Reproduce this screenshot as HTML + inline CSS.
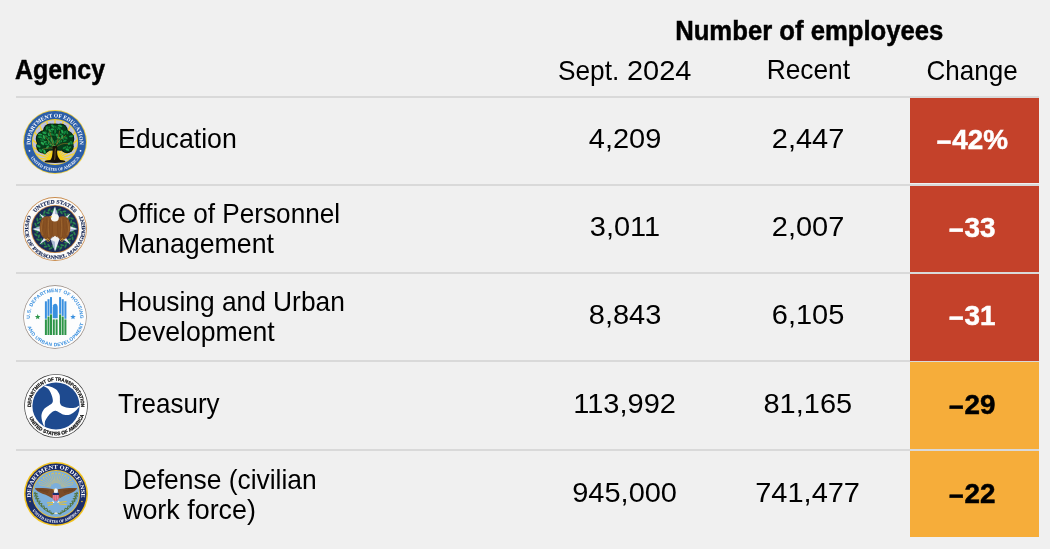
<!DOCTYPE html>
<html lang="en">
<head>
<meta charset="utf-8">
<title>Number of employees by agency</title>
<style>
  html, body { margin: 0; padding: 0; }
  body {
    width: 1050px; height: 549px; overflow: hidden; position: relative;
    background: #f0f0f0;
    font-family: "Liberation Sans", Arial, sans-serif;
    color: #000;
  }
  .t { position: absolute; white-space: nowrap; font-size: 28px; line-height: 30px; will-change: transform; }
  .b { font-weight: 700; -webkit-text-stroke: 0.5px currentColor; }
  .c { text-align: center; }
  .sx { display: inline-block; transform-origin: 0 50%; }
  .sc { display: inline-block; transform-origin: 50% 50%; }
  .line { position: absolute; left: 16px; width: 1023px; height: 2px; background: #d9d9d9; }
  .box { position: absolute; left: 910px; width: 129px; }
  .red { background: #c4412a; }
  .org { background: #f6ad3a; }
  .cw { color: #ffffff; }
  .ck { color: #000; }
  .cf { font-size: 27px; }
  .mn { display: inline-block; transform: translate(-0.6px, 2px) scaleX(0.93); transform-origin: 100% 50%; }
  .seal { position: absolute; width: 64px; height: 64px; will-change: transform; }
</style>
</head>
<body>
<div class="t c b" style="left:608.5px;width:400px;top:16px;"><span class="sc" style="transform:scaleX(0.917)">Number of employees</span></div>
<div class="t b" style="left:15px;top:54.5px;"><span class="sx" style="transform:scaleX(0.89)">Agency</span></div>
<div class="t" style="left:557.6px;top:55.5px;"><span class="sx" style="transform:scaleX(0.937)">Sept.</span> <span class="sx" style="margin-left:-4.47px;transform:scaleX(1.034)">2024</span></div>
<div class="t c" style="left:688.4px;width:240px;top:55.0px;"><span class="sc" style="transform:scaleX(0.94)">Recent</span></div>
<div class="t c" style="left:852.3px;width:240px;top:55.5px;"><span class="sc" style="transform:scaleX(0.93)">Change</span></div>
<div class="line" style="top:96px"></div>
<div class="line" style="top:184px"></div>
<div class="line" style="top:272px"></div>
<div class="line" style="top:360px"></div>
<div class="line" style="top:449px"></div>
<div class="box red" style="top:98px;height:85px"></div>
<div class="box red" style="top:186px;height:86px"></div>
<div class="box red" style="top:274px;height:87px"></div>
<div class="box org" style="top:362px;height:87px"></div>
<div class="box org" style="top:451px;height:86px"></div>
<div class="t" style="left:118px;top:124px;"><span class="sx" style="transform:scaleX(0.954)">Education</span></div>
<div class="t c" style="left:504.5px;width:240px;top:124px;"><span class="sc" style="transform:scaleX(1.035)">4,209</span></div>
<div class="t c" style="left:687.5px;width:240px;top:124px;"><span class="sc" style="transform:scaleX(1.035)">2,447</span></div>
<div class="t c b cw cf" style="left:908.3px;width:128px;top:125px;"><span class="sc" style="transform:scaleX(1.03)"><span class="mn">−</span>42%</span></div>
<div class="t" style="left:118px;top:199px;"><span class="sx" style="transform:scaleX(0.935)">Office of Personnel</span></div>
<div class="t" style="left:118px;top:229px;"><span class="sx" style="transform:scaleX(0.954)">Management</span></div>
<div class="t c" style="left:504.5px;width:240px;top:212px;"><span class="sc" style="transform:scaleX(1.035)">3,011</span></div>
<div class="t c" style="left:687.5px;width:240px;top:212px;"><span class="sc" style="transform:scaleX(1.035)">2,007</span></div>
<div class="t c b cw cf" style="left:908.3px;width:128px;top:213px;"><span class="sc" style="transform:scaleX(1.03)"><span class="mn">−</span>33</span></div>
<div class="t" style="left:118px;top:287px;"><span class="sx" style="transform:scaleX(0.94)">Housing and Urban</span></div>
<div class="t" style="left:118px;top:317px;"><span class="sx" style="transform:scaleX(0.95)">Development</span></div>
<div class="t c" style="left:504.5px;width:240px;top:300px;"><span class="sc" style="transform:scaleX(1.035)">8,843</span></div>
<div class="t c" style="left:687.5px;width:240px;top:300px;"><span class="sc" style="transform:scaleX(1.035)">6,105</span></div>
<div class="t c b cw cf" style="left:908.3px;width:128px;top:301px;"><span class="sc" style="transform:scaleX(1.03)"><span class="mn">−</span>31</span></div>
<div class="t" style="left:118px;top:389px;"><span class="sx" style="transform:scaleX(0.928)">Treasury</span></div>
<div class="t c" style="left:504.5px;width:240px;top:389px;"><span class="sc" style="transform:scaleX(1.035)">113,992</span></div>
<div class="t c" style="left:687.5px;width:240px;top:389px;"><span class="sc" style="transform:scaleX(1.035)">81,165</span></div>
<div class="t c b ck cf" style="left:908.3px;width:128px;top:390px;"><span class="sc" style="transform:scaleX(1.03)"><span class="mn">−</span>29</span></div>
<div class="t" style="left:123px;top:465px;"><span class="sx" style="transform:scaleX(0.943)">Defense (civilian</span></div>
<div class="t" style="left:123px;top:495px;"><span class="sx" style="transform:scaleX(0.96)">work force)</span></div>
<div class="t c" style="left:504.5px;width:240px;top:478px;"><span class="sc" style="transform:scaleX(1.035)">945,000</span></div>
<div class="t c" style="left:687.5px;width:240px;top:478px;"><span class="sc" style="transform:scaleX(1.035)">741,477</span></div>
<div class="t c b ck cf" style="left:908.3px;width:128px;top:479px;"><span class="sc" style="transform:scaleX(1.03)"><span class="mn">−</span>22</span></div>
<svg class="seal" style="left:23.4px;top:109.7px" width="64" height="64" viewBox="-32 -32 64 64"><circle r="31.9" fill="#eccd45"/><circle r="31" fill="#2b5ea9"/><circle r="23.1" fill="#efcd34"/><circle r="22.1" fill="#bfc3df"/><clipPath id="eduClip"><circle r="22.1"/></clipPath><g clip-path="url(#eduClip)"><g stroke="#f3d230" stroke-width="1.5"><line x1="0" y1="18" x2="-39.78" y2="13.82"/><line x1="0" y1="18" x2="-38.04" y2="5.64"/><line x1="0" y1="18" x2="-34.64" y2="-2"/><line x1="0" y1="18" x2="-29.73" y2="-8.77"/><line x1="0" y1="18" x2="-23.51" y2="-14.36"/><line x1="0" y1="18" x2="-16.27" y2="-18.54"/><line x1="0" y1="18" x2="-8.32" y2="-21.13"/><line x1="0" y1="18" x2="0" y2="-22"/><line x1="0" y1="18" x2="8.32" y2="-21.13"/><line x1="0" y1="18" x2="16.27" y2="-18.54"/><line x1="0" y1="18" x2="23.51" y2="-14.36"/><line x1="0" y1="18" x2="29.73" y2="-8.77"/><line x1="0" y1="18" x2="34.64" y2="-2"/><line x1="0" y1="18" x2="38.04" y2="5.64"/><line x1="0" y1="18" x2="39.78" y2="13.82"/></g></g><path d="M-10,19.5 L-3,9 L3,9 L10,19.5 Z" fill="#f6d31c"/><g transform="translate(0,-0.2) scale(0.93)"><g fill="#071d0e"><circle cx="0" cy="-5" r="14.7"/><circle cx="-11" cy="-3" r="9.7"/><circle cx="11" cy="-3" r="9.7"/><circle cx="-12.5" cy="5" r="7.7"/><circle cx="13" cy="5" r="7.2"/><circle cx="-5" cy="-12" r="7.7"/><circle cx="6" cy="-12" r="7.7"/><circle cx="-6" cy="4" r="5.7"/><circle cx="6" cy="4" r="5.7"/></g><g fill="#073f1c"><circle cx="0" cy="-5" r="13.7"/><circle cx="-11" cy="-3" r="8.7"/><circle cx="11" cy="-3" r="8.7"/><circle cx="-12.5" cy="5" r="6.7"/><circle cx="13" cy="5" r="6.2"/><circle cx="-5" cy="-12" r="6.7"/><circle cx="6" cy="-12" r="6.7"/><circle cx="-6" cy="4" r="4.7"/><circle cx="6" cy="4" r="4.7"/></g><ellipse cx="-7.05" cy="-14.32" rx="2.7" ry="1.5" fill="#149140" stroke="#051a0c" stroke-width="0.45" transform="rotate(117.17 -7.05 -14.32)"/><ellipse cx="-3.27" cy="-11.54" rx="2.7" ry="1.5" fill="#149140" stroke="#051a0c" stroke-width="0.45" transform="rotate(99.19 -3.27 -11.54)"/><ellipse cx="-11.07" cy="0.45" rx="2.7" ry="1.5" fill="#27ad54" stroke="#051a0c" stroke-width="0.45" transform="rotate(170.59 -11.07 0.45)"/><ellipse cx="2.27" cy="-14.87" rx="2.7" ry="1.5" fill="#149140" stroke="#051a0c" stroke-width="0.45" transform="rotate(75.45 2.27 -14.87)"/><ellipse cx="2.84" cy="-1.63" rx="2.7" ry="1.5" fill="#149140" stroke="#051a0c" stroke-width="0.45" transform="rotate(122.76 2.84 -1.63)"/><ellipse cx="3.26" cy="0.81" rx="2.7" ry="1.5" fill="#149140" stroke="#051a0c" stroke-width="0.45" transform="rotate(67.03 3.26 0.81)"/><ellipse cx="2.57" cy="0.19" rx="2.7" ry="1.5" fill="#27ad54" stroke="#051a0c" stroke-width="0.45" transform="rotate(89.35 2.57 0.19)"/><ellipse cx="11.09" cy="-4.57" rx="2.7" ry="1.5" fill="#11843a" stroke="#051a0c" stroke-width="0.45" transform="rotate(166.22 11.09 -4.57)"/><ellipse cx="-8.01" cy="5.63" rx="2.7" ry="1.5" fill="#1fa34c" stroke="#051a0c" stroke-width="0.45" transform="rotate(125.82 -8.01 5.63)"/><ellipse cx="-0.2" cy="-8.35" rx="2.7" ry="1.5" fill="#149140" stroke="#051a0c" stroke-width="0.45" transform="rotate(80.79 -0.2 -8.35)"/><ellipse cx="-15.28" cy="-6.04" rx="2.7" ry="1.5" fill="#1fa34c" stroke="#051a0c" stroke-width="0.45" transform="rotate(136.29 -15.28 -6.04)"/><ellipse cx="17.33" cy="-5.93" rx="2.7" ry="1.5" fill="#149140" stroke="#051a0c" stroke-width="0.45" transform="rotate(173.16 17.33 -5.93)"/><ellipse cx="10.58" cy="-1.24" rx="2.7" ry="1.5" fill="#11843a" stroke="#051a0c" stroke-width="0.45" transform="rotate(157.59 10.58 -1.24)"/><ellipse cx="-6.4" cy="-8.14" rx="2.7" ry="1.5" fill="#27ad54" stroke="#051a0c" stroke-width="0.45" transform="rotate(89.4 -6.4 -8.14)"/><ellipse cx="-9.2" cy="2.61" rx="2.7" ry="1.5" fill="#11843a" stroke="#051a0c" stroke-width="0.45" transform="rotate(11.7 -9.2 2.61)"/><ellipse cx="12.88" cy="-10.18" rx="2.7" ry="1.5" fill="#11843a" stroke="#051a0c" stroke-width="0.45" transform="rotate(69.44 12.88 -10.18)"/><ellipse cx="-17.64" cy="4.82" rx="2.7" ry="1.5" fill="#1fa34c" stroke="#051a0c" stroke-width="0.45" transform="rotate(23.28 -17.64 4.82)"/><ellipse cx="-0.14" cy="-13.84" rx="2.7" ry="1.5" fill="#11843a" stroke="#051a0c" stroke-width="0.45" transform="rotate(72.3 -0.14 -13.84)"/><ellipse cx="15.34" cy="6.4" rx="2.7" ry="1.5" fill="#11843a" stroke="#051a0c" stroke-width="0.45" transform="rotate(155.52 15.34 6.4)"/><ellipse cx="7.31" cy="-7.21" rx="2.7" ry="1.5" fill="#149140" stroke="#051a0c" stroke-width="0.45" transform="rotate(41.54 7.31 -7.21)"/><ellipse cx="-10.67" cy="-3.97" rx="2.7" ry="1.5" fill="#11843a" stroke="#051a0c" stroke-width="0.45" transform="rotate(106.04 -10.67 -3.97)"/><ellipse cx="-8.72" cy="-14.48" rx="2.7" ry="1.5" fill="#11843a" stroke="#051a0c" stroke-width="0.45" transform="rotate(96.23 -8.72 -14.48)"/><ellipse cx="0.62" cy="0.15" rx="2.7" ry="1.5" fill="#149140" stroke="#051a0c" stroke-width="0.45" transform="rotate(121.72 0.62 0.15)"/><ellipse cx="2.37" cy="-6.66" rx="2.7" ry="1.5" fill="#27ad54" stroke="#051a0c" stroke-width="0.45" transform="rotate(70.94 2.37 -6.66)"/><ellipse cx="5.37" cy="-17.07" rx="2.7" ry="1.5" fill="#1fa34c" stroke="#051a0c" stroke-width="0.45" transform="rotate(12.12 5.37 -17.07)"/><ellipse cx="-2.37" cy="-15.59" rx="2.7" ry="1.5" fill="#149140" stroke="#051a0c" stroke-width="0.45" transform="rotate(108.13 -2.37 -15.59)"/><ellipse cx="-15.94" cy="-7.73" rx="2.7" ry="1.5" fill="#1fa34c" stroke="#051a0c" stroke-width="0.45" transform="rotate(4.59 -15.94 -7.73)"/><ellipse cx="4.56" cy="-14.39" rx="2.7" ry="1.5" fill="#11843a" stroke="#051a0c" stroke-width="0.45" transform="rotate(45.41 4.56 -14.39)"/><ellipse cx="4.09" cy="-4.3" rx="2.7" ry="1.5" fill="#27ad54" stroke="#051a0c" stroke-width="0.45" transform="rotate(20.76 4.09 -4.3)"/><ellipse cx="-0.65" cy="-16.34" rx="2.7" ry="1.5" fill="#11843a" stroke="#051a0c" stroke-width="0.45" transform="rotate(18.39 -0.65 -16.34)"/><ellipse cx="9.61" cy="-4.16" rx="2.7" ry="1.5" fill="#149140" stroke="#051a0c" stroke-width="0.45" transform="rotate(124.57 9.61 -4.16)"/><ellipse cx="-11.79" cy="10.51" rx="2.7" ry="1.5" fill="#149140" stroke="#051a0c" stroke-width="0.45" transform="rotate(65.12 -11.79 10.51)"/><ellipse cx="10.33" cy="-9.76" rx="2.7" ry="1.5" fill="#149140" stroke="#051a0c" stroke-width="0.45" transform="rotate(115.73 10.33 -9.76)"/><ellipse cx="7.85" cy="-10.91" rx="2.7" ry="1.5" fill="#1fa34c" stroke="#051a0c" stroke-width="0.45" transform="rotate(66.01 7.85 -10.91)"/><ellipse cx="-5.77" cy="-12.09" rx="2.7" ry="1.5" fill="#11843a" stroke="#051a0c" stroke-width="0.45" transform="rotate(97.48 -5.77 -12.09)"/><ellipse cx="5.46" cy="0.01" rx="2.7" ry="1.5" fill="#1fa34c" stroke="#051a0c" stroke-width="0.45" transform="rotate(141.91 5.46 0.01)"/><ellipse cx="12.24" cy="6.37" rx="2.7" ry="1.5" fill="#1fa34c" stroke="#051a0c" stroke-width="0.45" transform="rotate(133.18 12.24 6.37)"/><ellipse cx="-12" cy="-3.72" rx="2.7" ry="1.5" fill="#149140" stroke="#051a0c" stroke-width="0.45" transform="rotate(131.58 -12 -3.72)"/><ellipse cx="11.6" cy="-4.36" rx="2.7" ry="1.5" fill="#11843a" stroke="#051a0c" stroke-width="0.45" transform="rotate(34.86 11.6 -4.36)"/><ellipse cx="-5.41" cy="-12.17" rx="2.7" ry="1.5" fill="#1fa34c" stroke="#051a0c" stroke-width="0.45" transform="rotate(40.83 -5.41 -12.17)"/><ellipse cx="-6.49" cy="-4.04" rx="2.7" ry="1.5" fill="#149140" stroke="#051a0c" stroke-width="0.45" transform="rotate(177.34 -6.49 -4.04)"/><ellipse cx="-0.82" cy="1.24" rx="2.7" ry="1.5" fill="#149140" stroke="#051a0c" stroke-width="0.45" transform="rotate(143.94 -0.82 1.24)"/><ellipse cx="-4.46" cy="3.06" rx="2.7" ry="1.5" fill="#1fa34c" stroke="#051a0c" stroke-width="0.45" transform="rotate(35.88 -4.46 3.06)"/><ellipse cx="-2.64" cy="0.71" rx="2.7" ry="1.5" fill="#27ad54" stroke="#051a0c" stroke-width="0.45" transform="rotate(15.61 -2.64 0.71)"/><ellipse cx="-1.47" cy="4.04" rx="2.7" ry="1.5" fill="#1fa34c" stroke="#051a0c" stroke-width="0.45" transform="rotate(15.29 -1.47 4.04)"/><ellipse cx="-13.95" cy="9.05" rx="2.7" ry="1.5" fill="#1fa34c" stroke="#051a0c" stroke-width="0.45" transform="rotate(145.17 -13.95 9.05)"/><ellipse cx="4.46" cy="-0.53" rx="2.7" ry="1.5" fill="#11843a" stroke="#051a0c" stroke-width="0.45" transform="rotate(85.38 4.46 -0.53)"/><ellipse cx="-13.76" cy="-2" rx="2.7" ry="1.5" fill="#149140" stroke="#051a0c" stroke-width="0.45" transform="rotate(3.85 -13.76 -2)"/><ellipse cx="-9.93" cy="-9.92" rx="2.7" ry="1.5" fill="#11843a" stroke="#051a0c" stroke-width="0.45" transform="rotate(43.3 -9.93 -9.92)"/><ellipse cx="-9.63" cy="-6.01" rx="2.7" ry="1.5" fill="#11843a" stroke="#051a0c" stroke-width="0.45" transform="rotate(23.59 -9.63 -6.01)"/><ellipse cx="15.91" cy="1.54" rx="2.7" ry="1.5" fill="#27ad54" stroke="#051a0c" stroke-width="0.45" transform="rotate(146.71 15.91 1.54)"/><ellipse cx="13.09" cy="8.22" rx="2.7" ry="1.5" fill="#1fa34c" stroke="#051a0c" stroke-width="0.45" transform="rotate(23.54 13.09 8.22)"/><ellipse cx="-2.4" cy="-13.32" rx="2.7" ry="1.5" fill="#1fa34c" stroke="#051a0c" stroke-width="0.45" transform="rotate(0.71 -2.4 -13.32)"/><ellipse cx="-13.11" cy="-4.32" rx="2.7" ry="1.5" fill="#149140" stroke="#051a0c" stroke-width="0.45" transform="rotate(130.53 -13.11 -4.32)"/><ellipse cx="-6.96" cy="-2.93" rx="2.7" ry="1.5" fill="#149140" stroke="#051a0c" stroke-width="0.45" transform="rotate(99.98 -6.96 -2.93)"/><ellipse cx="-16.09" cy="-4.98" rx="2.7" ry="1.5" fill="#149140" stroke="#051a0c" stroke-width="0.45" transform="rotate(5.02 -16.09 -4.98)"/><ellipse cx="-2.27" cy="-0.01" rx="2.7" ry="1.5" fill="#1fa34c" stroke="#051a0c" stroke-width="0.45" transform="rotate(91 -2.27 -0.01)"/><ellipse cx="7.71" cy="-4.98" rx="2.7" ry="1.5" fill="#27ad54" stroke="#051a0c" stroke-width="0.45" transform="rotate(95.99 7.71 -4.98)"/><ellipse cx="0.31" cy="-11.32" rx="2.7" ry="1.5" fill="#11843a" stroke="#051a0c" stroke-width="0.45" transform="rotate(94.18 0.31 -11.32)"/><ellipse cx="-11.9" cy="-5.13" rx="2.7" ry="1.5" fill="#27ad54" stroke="#051a0c" stroke-width="0.45" transform="rotate(74.99 -11.9 -5.13)"/><ellipse cx="-2.32" cy="-16.75" rx="2.7" ry="1.5" fill="#149140" stroke="#051a0c" stroke-width="0.45" transform="rotate(43.31 -2.32 -16.75)"/><ellipse cx="-11.49" cy="-9.61" rx="2.7" ry="1.5" fill="#1fa34c" stroke="#051a0c" stroke-width="0.45" transform="rotate(22.02 -11.49 -9.61)"/><ellipse cx="17.58" cy="0.95" rx="2.7" ry="1.5" fill="#11843a" stroke="#051a0c" stroke-width="0.45" transform="rotate(65.91 17.58 0.95)"/><ellipse cx="-11.22" cy="10.53" rx="2.7" ry="1.5" fill="#27ad54" stroke="#051a0c" stroke-width="0.45" transform="rotate(71.69 -11.22 10.53)"/><ellipse cx="-13.49" cy="1.7" rx="2.7" ry="1.5" fill="#27ad54" stroke="#051a0c" stroke-width="0.45" transform="rotate(40.27 -13.49 1.7)"/><ellipse cx="-3.15" cy="-7.94" rx="2.7" ry="1.5" fill="#11843a" stroke="#051a0c" stroke-width="0.45" transform="rotate(16.59 -3.15 -7.94)"/><ellipse cx="-6.74" cy="0.34" rx="2.7" ry="1.5" fill="#149140" stroke="#051a0c" stroke-width="0.45" transform="rotate(92.21 -6.74 0.34)"/><ellipse cx="-15.49" cy="9.47" rx="2.7" ry="1.5" fill="#149140" stroke="#051a0c" stroke-width="0.45" transform="rotate(41.14 -15.49 9.47)"/><ellipse cx="10.23" cy="6.41" rx="2.7" ry="1.5" fill="#11843a" stroke="#051a0c" stroke-width="0.45" transform="rotate(152.93 10.23 6.41)"/><ellipse cx="-3.76" cy="-2.37" rx="2.7" ry="1.5" fill="#27ad54" stroke="#051a0c" stroke-width="0.45" transform="rotate(92.66 -3.76 -2.37)"/><path d="M0,9 C-2,4 -6,0 -11,-6 M-1,5 C-3,0 -4,-6 -6,-12 M1,4 C3,-1 4,-6 5,-12 M1,6 C5,3 9,1 14,2 M-2,7 C-6,6 -10,7 -13,8 M2,2 C5,-3 9,-5 12,-7" stroke="#8f7022" stroke-width="0.7" fill="none"/></g><path d="M-6,19.5 C-3,17 -3,14 -2.5,11 C-2,8 -3,6 -2,4 L2,4 C3,7 1.5,10 2.5,13 C3,15 4,17 7,19.5 Z" fill="#1a1208"/><path d="M-0.5,18 C0.5,14 -0.5,10 0.5,6.5" stroke="#b08c2a" stroke-width="0.6" fill="none"/><ellipse cx="0" cy="19.4" rx="10.5" ry="1.7" fill="#14110a"/><path id="eduT" d="M-24.3,3.85 A24.6,24.6 0 1 1 24.3,3.85" fill="none"/><text font-family="Liberation Serif" font-weight="700" font-size="5.6" fill="#fff"><textPath href="#eduT" startOffset="50%" text-anchor="middle" textLength="82.46" lengthAdjust="spacingAndGlyphs">DEPARTMENT OF EDUCATION</textPath></text><path id="eduB" d="M-25.03,14.45 A28.9,28.9 0 0 0 25.03,14.45" fill="none"/><text font-family="Liberation Serif" font-weight="700" font-size="4.3" fill="#fff"><textPath href="#eduB" startOffset="50%" text-anchor="middle" textLength="57.5" lengthAdjust="spacingAndGlyphs">UNITED STATES OF AMERICA</textPath></text><circle cx="-25.53" cy="8.79" r="0.9" fill="#fff"/><circle cx="25.53" cy="8.79" r="0.9" fill="#fff"/></svg>
<svg class="seal" style="left:23.3px;top:196.6px" width="64" height="64" viewBox="-32 -32 64 64"><circle r="31.9" fill="#c98b4c"/><circle r="31.1" fill="#fbfbfa"/><circle r="24.1" fill="#c98b4c"/><circle r="23.2" fill="#1b2a56"/><circle r="18.8" fill="none" stroke="#1f5a3c" stroke-width="0.6"/><g fill="#2c8550"><ellipse cx="1.84" cy="-17.5" rx="2.0" ry="0.9" transform="rotate(41 1.84 -17.5)"/><ellipse cx="4.5" cy="-19.49" rx="2.0" ry="0.9" transform="rotate(-22 4.5 -19.49)"/><ellipse cx="6.31" cy="-16.43" rx="2.0" ry="0.9" transform="rotate(56 6.31 -16.43)"/><ellipse cx="9.39" cy="-17.66" rx="2.0" ry="0.9" transform="rotate(-7 9.39 -17.66)"/><ellipse cx="10.35" cy="-14.24" rx="2.0" ry="0.9" transform="rotate(71 10.35 -14.24)"/><ellipse cx="13.64" cy="-14.63" rx="2.0" ry="0.9" transform="rotate(8 13.64 -14.63)"/><ellipse cx="13.68" cy="-11.08" rx="2.0" ry="0.9" transform="rotate(86 13.68 -11.08)"/><ellipse cx="16.96" cy="-10.6" rx="2.0" ry="0.9" transform="rotate(23 16.96 -10.6)"/><ellipse cx="16.08" cy="-7.16" rx="2.0" ry="0.9" transform="rotate(101 16.08 -7.16)"/><ellipse cx="19.13" cy="-5.85" rx="2.0" ry="0.9" transform="rotate(38 19.13 -5.85)"/><ellipse cx="17.38" cy="-2.75" rx="2.0" ry="0.9" transform="rotate(116 17.38 -2.75)"/><ellipse cx="19.99" cy="-0.7" rx="2.0" ry="0.9" transform="rotate(53 19.99 -0.7)"/><ellipse cx="17.5" cy="1.84" rx="2.0" ry="0.9" transform="rotate(131 17.5 1.84)"/><ellipse cx="19.49" cy="4.5" rx="2.0" ry="0.9" transform="rotate(68 19.49 4.5)"/><ellipse cx="16.43" cy="6.31" rx="2.0" ry="0.9" transform="rotate(146 16.43 6.31)"/><ellipse cx="17.66" cy="9.39" rx="2.0" ry="0.9" transform="rotate(83 17.66 9.39)"/><ellipse cx="14.24" cy="10.35" rx="2.0" ry="0.9" transform="rotate(161 14.24 10.35)"/><ellipse cx="14.63" cy="13.64" rx="2.0" ry="0.9" transform="rotate(98 14.63 13.64)"/><ellipse cx="11.08" cy="13.68" rx="2.0" ry="0.9" transform="rotate(176 11.08 13.68)"/><ellipse cx="10.6" cy="16.96" rx="2.0" ry="0.9" transform="rotate(113 10.6 16.96)"/><ellipse cx="7.16" cy="16.08" rx="2.0" ry="0.9" transform="rotate(191 7.16 16.08)"/><ellipse cx="5.85" cy="19.13" rx="2.0" ry="0.9" transform="rotate(128 5.85 19.13)"/><ellipse cx="2.75" cy="17.38" rx="2.0" ry="0.9" transform="rotate(206 2.75 17.38)"/><ellipse cx="0.7" cy="19.99" rx="2.0" ry="0.9" transform="rotate(143 0.7 19.99)"/><ellipse cx="-1.84" cy="17.5" rx="2.0" ry="0.9" transform="rotate(221 -1.84 17.5)"/><ellipse cx="-4.5" cy="19.49" rx="2.0" ry="0.9" transform="rotate(158 -4.5 19.49)"/><ellipse cx="-6.31" cy="16.43" rx="2.0" ry="0.9" transform="rotate(236 -6.31 16.43)"/><ellipse cx="-9.39" cy="17.66" rx="2.0" ry="0.9" transform="rotate(173 -9.39 17.66)"/><ellipse cx="-10.35" cy="14.24" rx="2.0" ry="0.9" transform="rotate(251 -10.35 14.24)"/><ellipse cx="-13.64" cy="14.63" rx="2.0" ry="0.9" transform="rotate(188 -13.64 14.63)"/><ellipse cx="-13.68" cy="11.08" rx="2.0" ry="0.9" transform="rotate(266 -13.68 11.08)"/><ellipse cx="-16.96" cy="10.6" rx="2.0" ry="0.9" transform="rotate(203 -16.96 10.6)"/><ellipse cx="-16.08" cy="7.16" rx="2.0" ry="0.9" transform="rotate(281 -16.08 7.16)"/><ellipse cx="-19.13" cy="5.85" rx="2.0" ry="0.9" transform="rotate(218 -19.13 5.85)"/><ellipse cx="-17.38" cy="2.75" rx="2.0" ry="0.9" transform="rotate(296 -17.38 2.75)"/><ellipse cx="-19.99" cy="0.7" rx="2.0" ry="0.9" transform="rotate(233 -19.99 0.7)"/><ellipse cx="-17.5" cy="-1.84" rx="2.0" ry="0.9" transform="rotate(311 -17.5 -1.84)"/><ellipse cx="-19.49" cy="-4.5" rx="2.0" ry="0.9" transform="rotate(248 -19.49 -4.5)"/><ellipse cx="-16.43" cy="-6.31" rx="2.0" ry="0.9" transform="rotate(326 -16.43 -6.31)"/><ellipse cx="-17.66" cy="-9.39" rx="2.0" ry="0.9" transform="rotate(263 -17.66 -9.39)"/><ellipse cx="-14.24" cy="-10.35" rx="2.0" ry="0.9" transform="rotate(341 -14.24 -10.35)"/><ellipse cx="-14.63" cy="-13.64" rx="2.0" ry="0.9" transform="rotate(278 -14.63 -13.64)"/><ellipse cx="-11.08" cy="-13.68" rx="2.0" ry="0.9" transform="rotate(356 -11.08 -13.68)"/><ellipse cx="-10.6" cy="-16.96" rx="2.0" ry="0.9" transform="rotate(293 -10.6 -16.96)"/><ellipse cx="-7.16" cy="-16.08" rx="2.0" ry="0.9" transform="rotate(371 -7.16 -16.08)"/><ellipse cx="-5.85" cy="-19.13" rx="2.0" ry="0.9" transform="rotate(308 -5.85 -19.13)"/><ellipse cx="-2.75" cy="-17.38" rx="2.0" ry="0.9" transform="rotate(386 -2.75 -17.38)"/><ellipse cx="-0.7" cy="-19.99" rx="2.0" ry="0.9" transform="rotate(323 -0.7 -19.99)"/></g><g fill="#e4e9f4"><polygon points="15.56,-15.56 7.05,-9.71 9.71,-7.05"/><polygon points="15.56,15.56 9.71,7.05 7.05,9.71"/><polygon points="-15.56,15.56 -7.05,9.71 -9.71,7.05"/><polygon points="-15.56,-15.56 -9.71,-7.05 -7.05,-9.71"/></g><polygon points="0,-22.6 -6.01,-6.01 0,0" fill="#e6ebf5"/><polygon points="0,-22.6 6.01,-6.01 0,0" fill="#aebbd6"/><polygon points="22.6,-0 6.01,-6.01 0,0" fill="#e6ebf5"/><polygon points="22.6,-0 6.01,6.01 0,0" fill="#aebbd6"/><polygon points="0,22.6 6.01,6.01 0,0" fill="#e6ebf5"/><polygon points="0,22.6 -6.01,6.01 0,0" fill="#aebbd6"/><polygon points="-22.6,0 -6.01,6.01 0,0" fill="#e6ebf5"/><polygon points="-22.6,0 -6.01,-6.01 0,0" fill="#aebbd6"/><path d="M0,-8 C-3,-12.5 -9,-14.5 -13,-10.5 C-16,-6.5 -16.2,1.5 -13.5,6.5 C-11.5,9.5 -8.5,11 -5.5,11 L-2.5,7.5 L0,9 L2.5,7.5 L5.5,11 C8.5,11 11.5,9.5 13.5,6.5 C16.2,1.5 16,-6.5 13,-10.5 C9,-14.5 3,-12.5 0,-8 Z" fill="#8e5626"/><path d="M-13,-11.5 C-13.39,-5.5 -13,3 -11.05,9.5 M-11.5,-11.5 C-11.85,-5.5 -11.5,3 -9.78,9.5 M-10,-11.5 C-10.3,-5.5 -10,3 -8.5,9.5 M-8.5,-11.5 C-8.76,-5.5 -8.5,3 -7.22,9.5 M-7,-11.5 C-7.21,-5.5 -7,3 -5.95,9.5 M-5.5,-11.5 C-5.67,-5.5 -5.5,3 -4.67,9.5 M-4,-11.5 C-4.12,-5.5 -4,3 -3.4,9.5 M-2.5,-7 C-2.58,-1 -2.5,3 -2.12,9.5 M2.5,-7 C2.58,-1 2.5,3 2.12,9.5 M4,-11.5 C4.12,-5.5 4,3 3.4,9.5 M5.5,-11.5 C5.67,-5.5 5.5,3 4.67,9.5 M7,-11.5 C7.21,-5.5 7,3 5.95,9.5 M8.5,-11.5 C8.76,-5.5 8.5,3 7.22,9.5 M10,-11.5 C10.3,-5.5 10,3 8.5,9.5 M11.5,-11.5 C11.85,-5.5 11.5,3 9.78,9.5 M13,-11.5 C13.39,-5.5 13,3 11.05,9.5" stroke="#6b3c16" stroke-width="0.45" fill="none" opacity="0.8"/><path d="M-12,-9 C-14,-4 -14,2 -12,6 M12,-9 C14,-4 14,2 12,6 M-6,-11 C-7,-5 -7,2 -6,8 M6,-11 C7,-5 7,2 6,8" stroke="#b27a3a" stroke-width="0.5" fill="none"/><ellipse cx="-0.2" cy="-11.3" rx="4" ry="3.7" fill="#f6f6f3"/><path d="M-3.2,-13 L-6,-12.4 L-3.4,-11.2 Z" fill="#eab21c"/><path d="M-4.5,10.5 L0,6.8 L4.5,10.5 L0,12.8 Z" fill="#f2f2f2"/><path d="M-9.5,10 L-6.5,13 M-8,9.5 L-5,12 M9.5,10 L6.5,13 M8,9.5 L5,12" stroke="#e2ad2c" stroke-width="0.9"/><path id="opmT" d="M-19.53,-16.39 A25.5,25.5 0 0 1 19.53,-16.39" fill="none"/><text font-family="Liberation Serif" font-weight="700" font-size="5.4" fill="#1b2a56" stroke="#1b2a56" stroke-width="0.15"><textPath href="#opmT" startOffset="50%" text-anchor="middle" textLength="44.51" lengthAdjust="spacingAndGlyphs">UNITED STATES</textPath></text><path id="opmB" d="M-26.82,-13.67 A30.1,30.1 0 1 0 26.82,-13.67" fill="none"/><text font-family="Liberation Serif" font-weight="700" font-size="5.2" fill="#1b2a56" stroke="#1b2a56" stroke-width="0.15"><textPath href="#opmB" startOffset="50%" text-anchor="middle" textLength="122.93" lengthAdjust="spacingAndGlyphs">OFFICE OF PERSONNEL MANAGEMENT</textPath></text></svg>
<svg class="seal" style="left:23.3px;top:284.7px" width="64" height="64" viewBox="-32 -32 64 64"><circle r="31.7" fill="#8d7f76"/><circle r="31.1" fill="#fdfdfd"/><rect x="-10.1" y="-15.7" width="2" height="17.5" fill="#3a90df"/><rect x="-10.1" y="2.4" width="2" height="15.6" fill="#2e9548"/><rect x="-7.5" y="-17.8" width="2" height="16.7" fill="#3a90df"/><rect x="-7.5" y="-0.5" width="2" height="18.5" fill="#2e9548"/><rect x="-5" y="-19.9" width="2" height="16.7" fill="#3a90df"/><rect x="-5" y="-2.6" width="2" height="20.6" fill="#2e9548"/><rect x="4.1" y="-19.9" width="2" height="16.7" fill="#3a90df"/><rect x="4.1" y="-2.6" width="2" height="20.6" fill="#2e9548"/><rect x="6.7" y="-17.8" width="2" height="16.7" fill="#3a90df"/><rect x="6.7" y="-0.5" width="2" height="18.5" fill="#2e9548"/><rect x="9.4" y="-15.7" width="2" height="17.5" fill="#3a90df"/><rect x="9.4" y="2.4" width="2" height="15.6" fill="#2e9548"/><rect x="-2.2" y="2.4" width="2" height="15.6" fill="#2e9548"/><rect x="0.6" y="2.4" width="2" height="15.6" fill="#2e9548"/><path d="M-2.3,1.2 L-2.3,-9.5 C-2.3,-12 -1,-13.3 0.3,-13.3 C1.8,-13.3 2.7,-11.8 2.7,-9.5 L2.7,1.2 Z" fill="#3a90df"/><path d="M-1.2,-12.4 L-2.6,-11.2 L-1.2,-11 Z" fill="#3a90df"/><polygon points="-17.3,-2.9 -16.58,-0.99 -14.54,-0.9 -16.14,0.38 -15.6,2.35 -17.3,1.22 -19,2.35 -18.46,0.38 -20.06,-0.9 -18.02,-0.99" fill="#2e9548"/><polygon points="18,-2.9 18.72,-0.99 20.76,-0.9 19.16,0.38 19.7,2.35 18,1.22 16.3,2.35 16.84,0.38 15.24,-0.9 17.28,-0.99" fill="#3a90df"/><path id="hudT" d="M-24.97,1.31 A25,25 0 1 1 24.97,1.31" fill="none"/><text font-family="Liberation Sans" font-weight="700" font-size="4.9" fill="#3a90df"><textPath href="#hudT" startOffset="50%" text-anchor="middle" textLength="81.16" lengthAdjust="spacing">U.S. DEPARTMENT OF HOUSING</textPath></text><path id="hudB" d="M-27.44,9.99 A29.2,29.2 0 0 0 28.45,6.57" fill="none"/><text font-family="Liberation Sans" font-weight="700" font-size="4.9" fill="#3a90df"><textPath href="#hudB" startOffset="50%" text-anchor="middle" textLength="74.92" lengthAdjust="spacing">AND URBAN DEVELOPMENT</textPath></text></svg>
<svg class="seal" style="left:23.6px;top:374.3px" width="64" height="64" viewBox="-32 -32 64 64"><circle r="31.8" fill="#2a2a2a"/><circle r="31.2" fill="#fdfdfd"/><circle r="23.6" fill="#1e4a8f"/><clipPath id="dotClip"><circle r="23.6"/></clipPath><path d="M-12.4,-20.4 C-12.01,-20.79 -7.44,-19.98 -5.34,-19.33 C-3.25,-18.68 -1.32,-17.83 0.15,-16.52 C1.62,-15.21 2.86,-13.14 3.48,-11.49 C4.11,-9.85 3.81,-8.11 3.91,-6.66 C4.01,-5.21 3.71,-3.91 4.09,-2.81 C4.47,-1.7 4.92,-0.79 6.2,-0.04 C7.49,0.71 9.77,1.39 11.82,1.7 C13.87,2.01 16.51,2.22 18.52,1.85 C20.53,1.48 23.72,-1.07 23.87,-0.54 C24.02,-0.01 21.02,3.55 19.41,5.04 C17.81,6.53 16.1,7.77 14.23,8.39 C12.37,9.01 9.95,9.04 8.21,8.76 C6.48,8.48 5.12,7.35 3.81,6.71 C2.51,6.08 1.53,5.16 0.39,4.94 C-0.76,4.72 -1.77,4.65 -3.07,5.39 C-4.36,6.13 -6.08,7.76 -7.38,9.39 C-8.68,11.01 -10.18,13.19 -10.86,15.12 C-11.54,17.04 -10.93,21.08 -11.47,20.94 C-12,20.8 -13.58,16.43 -14.07,14.29 C-14.56,12.16 -14.78,10.06 -14.38,8.13 C-13.99,6.2 -12.8,4.1 -11.69,2.73 C-10.58,1.37 -8.92,0.75 -7.72,-0.06 C-6.52,-0.87 -5.24,-1.25 -4.48,-2.14 C-3.71,-3.02 -3.14,-3.86 -3.13,-5.35 C-3.13,-6.85 -3.68,-9.15 -4.44,-11.09 C-5.19,-13.02 -6.33,-15.41 -7.66,-16.96 C-8.99,-18.52 -12.79,-20.01 -12.4,-20.4 Z" fill="#fff" clip-path="url(#dotClip)"/><path id="dotT" d="M-25.08,0.88 A25.1,25.1 0 1 1 25.08,0.88" fill="none"/><text font-family="Liberation Sans" font-weight="700" font-size="4.9" fill="#111" stroke="#111" stroke-width="0.2"><textPath href="#dotT" startOffset="50%" text-anchor="middle" textLength="80.61" lengthAdjust="spacingAndGlyphs">DEPARTMENT OF TRANSPORTATION</textPath></text><path id="dotB" d="M-26.77,11.92 A29.3,29.3 0 0 0 27.87,9.05" fill="none"/><text font-family="Liberation Sans" font-weight="700" font-size="4.9" fill="#111" stroke="#111" stroke-width="0.2"><textPath href="#dotB" startOffset="50%" text-anchor="middle" textLength="70.57" lengthAdjust="spacingAndGlyphs">UNITED STATES OF AMERICA</textPath></text></svg>
<svg class="seal" style="left:23.5px;top:462.1px" width="64" height="64" viewBox="-32 -32 64 64"><circle r="32" fill="#f2c21c"/><circle r="30.5" fill="#1b2d6b"/><circle r="24" fill="#e6c03c"/><circle r="23.1" fill="#7cafdb"/><g stroke="#e2c35e" stroke-width="0.55"><line x1="-5.71" y1="-6.85" x2="-16.64" y2="-9.41"/><line x1="-5.39" y1="-7.63" x2="-15.73" y2="-11.67"/><line x1="-4.97" y1="-8.36" x2="-14.51" y2="-13.79"/><line x1="-4.46" y1="-9.01" x2="-13.01" y2="-15.71"/><line x1="-3.86" y1="-9.6" x2="-11.25" y2="-17.41"/><line x1="-3.18" y1="-10.09" x2="-9.27" y2="-18.84"/><line x1="-2.44" y1="-10.48" x2="-7.12" y2="-19.99"/><line x1="-1.65" y1="-10.77" x2="-4.82" y2="-20.82"/><line x1="-0.84" y1="-10.94" x2="-2.44" y2="-21.33"/><line x1="0" y1="-11" x2="0" y2="-21.5"/><line x1="0.84" y1="-10.94" x2="2.44" y2="-21.33"/><line x1="1.65" y1="-10.77" x2="4.82" y2="-20.82"/><line x1="2.44" y1="-10.48" x2="7.12" y2="-19.99"/><line x1="3.18" y1="-10.09" x2="9.27" y2="-18.84"/><line x1="3.86" y1="-9.6" x2="11.25" y2="-17.41"/><line x1="4.46" y1="-9.01" x2="13.01" y2="-15.71"/><line x1="4.97" y1="-8.36" x2="14.51" y2="-13.79"/><line x1="5.39" y1="-7.63" x2="15.73" y2="-11.67"/><line x1="5.71" y1="-6.85" x2="16.64" y2="-9.41"/></g><g fill="#ecc53a"><circle cx="-16.71" cy="-11.15" r="0.7"/><circle cx="-14.78" cy="-13.91" r="0.7"/><circle cx="-12.41" cy="-16.28" r="0.7"/><circle cx="-9.65" cy="-18.21" r="0.7"/><circle cx="-6.6" cy="-19.64" r="0.7"/><circle cx="-3.35" cy="-20.51" r="0.7"/><circle cx="0" cy="-20.8" r="0.7"/><circle cx="3.35" cy="-20.51" r="0.7"/><circle cx="6.6" cy="-19.64" r="0.7"/><circle cx="9.65" cy="-18.21" r="0.7"/><circle cx="12.41" cy="-16.28" r="0.7"/><circle cx="14.78" cy="-13.91" r="0.7"/><circle cx="16.71" cy="-11.15" r="0.7"/></g><path d="M-20.5,-1 C-20,8 -14,16 -4,19.5 M20.5,-1 C20,8 14,16 4,19.5" stroke="#4e6e3c" stroke-width="0.8" fill="none"/><g fill="#55763f"><ellipse cx="-21.3" cy="-1" rx="1.5" ry="0.7" transform="rotate(-60 -21.3 -1)"/><ellipse cx="-19.5" cy="-0.4" rx="1.5" ry="0.7" transform="rotate(20 -19.5 -0.4)"/><ellipse cx="21.3" cy="-1" rx="1.5" ry="0.7" transform="rotate(60 21.3 -1)"/><ellipse cx="19.5" cy="-0.4" rx="1.5" ry="0.7" transform="rotate(-20 19.5 -0.4)"/><ellipse cx="-20.82" cy="1.5" rx="1.5" ry="0.7" transform="rotate(-65 -20.82 1.5)"/><ellipse cx="-19.02" cy="2.1" rx="1.5" ry="0.7" transform="rotate(15 -19.02 2.1)"/><ellipse cx="20.82" cy="1.5" rx="1.5" ry="0.7" transform="rotate(65 20.82 1.5)"/><ellipse cx="19.02" cy="2.1" rx="1.5" ry="0.7" transform="rotate(-15 19.02 2.1)"/><ellipse cx="-19.9" cy="4" rx="1.5" ry="0.7" transform="rotate(-70 -19.9 4)"/><ellipse cx="-18.1" cy="4.6" rx="1.5" ry="0.7" transform="rotate(10 -18.1 4.6)"/><ellipse cx="19.9" cy="4" rx="1.5" ry="0.7" transform="rotate(70 19.9 4)"/><ellipse cx="18.1" cy="4.6" rx="1.5" ry="0.7" transform="rotate(-10 18.1 4.6)"/><ellipse cx="-18.53" cy="6.5" rx="1.5" ry="0.7" transform="rotate(-75 -18.53 6.5)"/><ellipse cx="-16.73" cy="7.1" rx="1.5" ry="0.7" transform="rotate(5 -16.73 7.1)"/><ellipse cx="18.53" cy="6.5" rx="1.5" ry="0.7" transform="rotate(75 18.53 6.5)"/><ellipse cx="16.73" cy="7.1" rx="1.5" ry="0.7" transform="rotate(-5 16.73 7.1)"/><ellipse cx="-16.7" cy="9" rx="1.5" ry="0.7" transform="rotate(-80 -16.7 9)"/><ellipse cx="-14.9" cy="9.6" rx="1.5" ry="0.7" transform="rotate(-0 -14.9 9.6)"/><ellipse cx="16.7" cy="9" rx="1.5" ry="0.7" transform="rotate(80 16.7 9)"/><ellipse cx="14.9" cy="9.6" rx="1.5" ry="0.7" transform="rotate(0 14.9 9.6)"/><ellipse cx="-14.43" cy="11.5" rx="1.5" ry="0.7" transform="rotate(-85 -14.43 11.5)"/><ellipse cx="-12.62" cy="12.1" rx="1.5" ry="0.7" transform="rotate(-5 -12.62 12.1)"/><ellipse cx="14.43" cy="11.5" rx="1.5" ry="0.7" transform="rotate(85 14.43 11.5)"/><ellipse cx="12.62" cy="12.1" rx="1.5" ry="0.7" transform="rotate(5 12.62 12.1)"/><ellipse cx="-11.7" cy="14" rx="1.5" ry="0.7" transform="rotate(-90 -11.7 14)"/><ellipse cx="-9.9" cy="14.6" rx="1.5" ry="0.7" transform="rotate(-10 -9.9 14.6)"/><ellipse cx="11.7" cy="14" rx="1.5" ry="0.7" transform="rotate(90 11.7 14)"/><ellipse cx="9.9" cy="14.6" rx="1.5" ry="0.7" transform="rotate(10 9.9 14.6)"/><ellipse cx="-8.53" cy="16.5" rx="1.5" ry="0.7" transform="rotate(-95 -8.53 16.5)"/><ellipse cx="-6.72" cy="17.1" rx="1.5" ry="0.7" transform="rotate(-15 -6.72 17.1)"/><ellipse cx="8.53" cy="16.5" rx="1.5" ry="0.7" transform="rotate(95 8.53 16.5)"/><ellipse cx="6.72" cy="17.1" rx="1.5" ry="0.7" transform="rotate(15 6.72 17.1)"/><ellipse cx="-4.9" cy="19" rx="1.5" ry="0.7" transform="rotate(-100 -4.9 19)"/><ellipse cx="-3.1" cy="19.6" rx="1.5" ry="0.7" transform="rotate(-20 -3.1 19.6)"/><ellipse cx="4.9" cy="19" rx="1.5" ry="0.7" transform="rotate(100 4.9 19)"/><ellipse cx="3.1" cy="19.6" rx="1.5" ry="0.7" transform="rotate(20 3.1 19.6)"/></g><path d="M-1.5,-4.8 C-8,-5.6 -15,-6.2 -21.2,-5.8 C-20,-3.2 -16,-1 -11,0.5 C-8,1.8 -5.5,3 -3.5,4.5 Z" fill="#7b4b27"/><path d="M1.5,-4.8 C8,-5.6 15,-6.2 21.2,-5.8 C20,-3.2 16,-1 11,0.5 C8,1.8 5.5,3 3.5,4.5 Z" fill="#7b4b27"/><path d="M-19,-4.4 L-8,-1.5 M-17,-4.5 L-7,-3 M19,-4.4 L8,-1.5 M17,-4.5 L7,-3" stroke="#5a3418" stroke-width="0.4"/><ellipse cx="-0.2" cy="-3.2" rx="2" ry="2.6" fill="#f8f8f6"/><path d="M-1.5,-4.8 L-3.8,-4.4 L-1.6,-3.4 Z" fill="#e5b52a"/><path d="M-3.4,-0.9 L3,-0.9 L3,3.5 C3,5.6 1.2,6.6 -0.2,7.2 C-1.6,6.6 -3.4,5.6 -3.4,3.5 Z" fill="#d94f68"/><path d="M-2.1,1 L-2.1,5.5 M-0.2,1 L-0.2,7 M1.7,1 L1.7,5.5" stroke="#f2c9d2" stroke-width="0.55"/><rect x="-3.4" y="-1.1" width="6.4" height="2.1" fill="#1d2f70"/><path d="M-4.5,9 L-3,6.5 L-1.5,9 Z M1.2,9 L2.7,6.5 L4.2,9 Z" fill="#f4f4f2"/><path d="M2.5,8.5 L10.5,7.5 M3,10 L10.5,10.5 M-3,8.5 L-9,9 M-3,10 L-8,11.5" stroke="#e8c130" stroke-width="1.1"/><path d="M-2,20 L0,18 L2,20 Z" fill="#eee8c8"/><path id="dodT" d="M-24.95,3.51 A25.2,25.2 0 1 1 24.95,3.51" fill="none"/><text font-family="Liberation Serif" font-weight="700" font-size="5.7" fill="#fff"><textPath href="#dodT" startOffset="50%" text-anchor="middle" textLength="86.21" lengthAdjust="spacingAndGlyphs">DEPARTMENT OF DEFENSE</textPath></text><path id="dodB" d="M-24.51,15.31 A28.9,28.9 0 0 0 24.51,15.31" fill="none"/><text font-family="Liberation Serif" font-weight="700" font-size="4.1" fill="#fff"><textPath href="#dodB" startOffset="50%" text-anchor="middle" textLength="55.58" lengthAdjust="spacingAndGlyphs">UNITED STATES OF AMERICA</textPath></text><circle cx="-25.95" cy="7.44" r="0.8" fill="#e6c03c"/><circle cx="25.95" cy="7.44" r="0.8" fill="#e6c03c"/></svg>
</body>
</html>
